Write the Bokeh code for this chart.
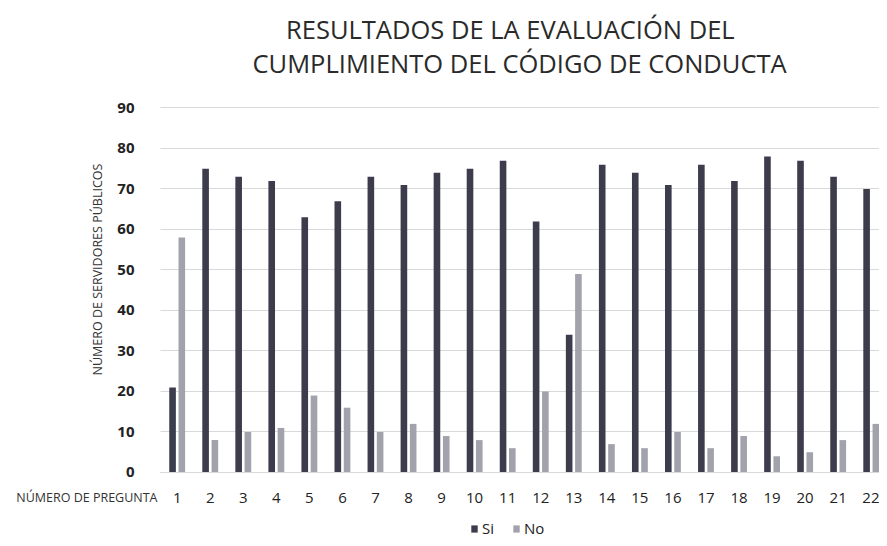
import math
from bokeh.plotting import figure
from bokeh.models import (ColumnDataSource, Label, Legend, LegendItem, LinearAxis,
                          FixedTicker, Grid)
from bokeh.transform import dodge
from bokeh.embed import file_html
from bokeh.resources import INLINE

preguntas = [str(i) for i in range(1, 23)]
si = [21, 75, 73, 72, 63, 67, 73, 71, 74, 75, 77, 62, 34, 76, 74, 71, 76, 72, 78, 77, 73, 70]
no = [58, 8, 10, 11, 19, 16, 10, 12, 9, 8, 6, 20, 49, 7, 6, 10, 6, 9, 4, 5, 8, 12]
y_ticks = [0, 10, 20, 30, 40, 50, 60, 70, 80, 90]
titulo = ["RESULTADOS DE LA EVALUACIÓN DEL", "CUMPLIMIENTO DEL CÓDIGO DE CONDUCTA"]

pos = [i + 1 for i in range(len(preguntas))]
src = ColumnDataSource(dict(pos=pos, preg=preguntas, si=si, no=no))

FONT = "Open Sans"
X0, X1 = 0.495, 22.25  # plot area in category units

p = figure(width=879, height=538, x_range=(-4.346, X1), y_range=(-16.30, 116.54),
           output_backend="svg", toolbar_location=None,
           x_axis_location=None, y_axis_location=None, min_border=0)
p.outline_line_color = None
p.background_fill_color = "white"
p.xgrid.visible = False
p.ygrid.visible = False

grid = Grid(dimension=1, ticker=FixedTicker(ticks=y_ticks), cross_bounds=(X0, X1),
            grid_line_color="#d9d9d9", grid_line_width=1)
p.add_layout(grid)

r_si = p.vbar(x=dodge("pos", -0.14), top="si", width=0.2, source=src,
              fill_color="#3c3c4c", line_color=None)
r_no = p.vbar(x=dodge("pos", 0.14), top="no", width=0.2, source=src,
              fill_color="#a2a2ac", line_color=None)

yaxis = LinearAxis(fixed_location=X0, ticker=FixedTicker(ticks=y_ticks), bounds=(0, 90),
                   axis_line_color=None, major_tick_line_color=None, minor_tick_line_color=None,
                   major_label_text_font=FONT, major_label_text_font_size="15px",
                   major_label_text_font_style="bold", major_label_text_color="#222222",
                   major_label_standoff=20)
p.add_layout(yaxis, "left")

xaxis = LinearAxis(fixed_location=0, ticker=FixedTicker(ticks=pos), bounds=(X0, X1),
                   major_label_overrides={k: v for k, v in zip(pos, preguntas)},
                   axis_line_color="#d9d9d9", major_tick_line_color=None,
                   minor_tick_line_color=None,
                   major_label_text_font=FONT, major_label_text_font_size="15px",
                   major_label_text_color="#222222", major_label_standoff=15)
p.add_layout(xaxis, "below")

p.add_layout(Label(x=11.08, y=109.4, text=titulo[0], text_align="center",
                   text_baseline="middle", text_font=FONT, text_font_size="25.5px",
                   text_color="#2a2a2a"))
p.add_layout(Label(x=11.36, y=101.2, text=titulo[1], text_align="center",
                   text_baseline="middle", text_font=FONT, text_font_size="25.5px",
                   text_color="#2a2a2a"))

p.add_layout(Label(x=-1.41, y=50.1, text="NÚMERO DE SERVIDORES PÚBLICOS", angle=math.pi / 2,
                   text_align="center", text_baseline="middle", text_font=FONT,
                   text_font_size="12.5px", text_color="#333333"))

p.add_layout(Label(x=0.404, y=-6.17, text="NÚMERO DE PREGUNTA", text_align="right",
                   text_baseline="middle", text_font=FONT, text_font_size="12.5px",
                   text_color="#333333"))

legend = Legend(items=[LegendItem(label="Si", renderers=[r_si]),
                       LegendItem(label="No", renderers=[r_no])],
                orientation="horizontal", location=(470, 0),
                label_text_font=FONT, label_text_font_size="15px", label_text_color="#222222",
                glyph_width=8, glyph_height=9, spacing=10, label_standoff=4,
                border_line_color=None, background_fill_alpha=0, padding=2, margin=0)
p.add_layout(legend, "center")

open("out.html", "w").write(file_html(p, INLINE))
